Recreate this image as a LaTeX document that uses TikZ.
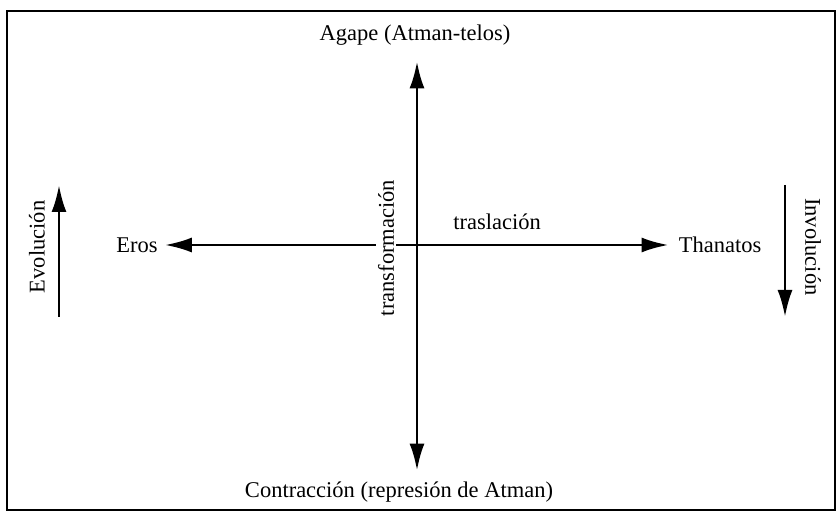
\documentclass[tikz,border=0pt]{standalone}
\usepackage{fontspec}
\setmainfont{Liberation Serif}
\usetikzlibrary{arrows.meta}

\tikzset{
  lbl/.style={inner sep=2pt,font=\fontsize{22.5}{26}\selectfont},
  arr/.style={line width=2.8pt,-{Latex[length=27pt,width=15pt]}},
  arrs/.style={line width=2.8pt,{Latex[length=27pt,width=15pt]}-{Latex[length=27pt,width=15pt]}}
}

\begin{document}
\begin{tikzpicture}[x=1pt,y=1pt]
      \useasboundingbox (0,0) rectangle (837,518);
      \draw[line width=1.6pt] (7,8) rectangle (835,507);
      \coordinate (c) at (417,273);
      \foreach \pos/\name/\txt in { {(415,483)/agape/Agape (Atman-telos)}, {(399,26)/contr/Contracción (represión de Atman)},
        {(137,273)/eros/Eros}, {(720,273)/thanatos/Thanatos}, {(497,296)/trasl/traslación}}
      \node[lbl] (\name) at \pos {\txt};
      \node[lbl,rotate=90] (transf) at (386,270) {transformación};
      \node[lbl,rotate=90] (evol) at (37,271) {Evolución};
      \node[lbl,rotate=-90] (invol) at (813,271) {Involución};
      \coordinate (ev1) at (59,201);
      \coordinate (ev2) at (59,333);
      \coordinate (in1) at (785,333);
      \coordinate (in2) at (785,201);
      \path[draw,arrs,shorten <=14pt,shorten >=9pt] (c |- agape.south) -- (c |- contr.north);
      \path[draw,arr,shorten >=5pt] (transf.north |- c) -- (eros);
      \path[draw,arr,shorten >=8pt] (transf.south |- c) -- (thanatos);
      \foreach \source/ \dest in {ev1/ev2, in1/in2}
      \path[draw,arr] (\source) -- (\dest);
    \end{tikzpicture}
\end{document}
